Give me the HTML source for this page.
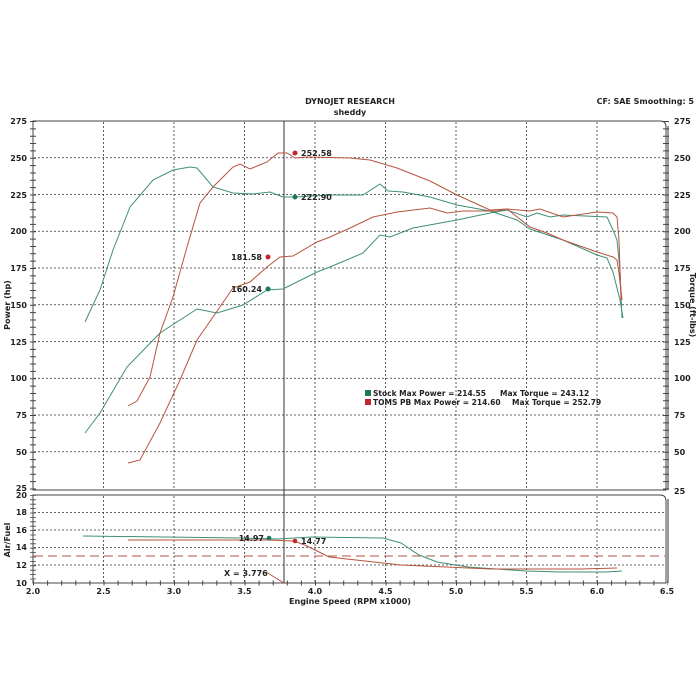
<!DOCTYPE html>
<html><head><meta charset="utf-8"><style>
html,body{margin:0;padding:0;background:#fff;}
svg{display:block;font-family:"DejaVu Sans","Liberation Sans",sans-serif;}
</style></head><body>
<svg width="700" height="700" viewBox="0 0 700 700" xmlns="http://www.w3.org/2000/svg">
<rect width="700" height="700" fill="#fff"/>
<text x="350" y="104" font-size="8" font-weight="bold" text-anchor="middle" fill="#222">DYNOJET RESEARCH</text>
<text x="350" y="115" font-size="8" font-weight="bold" text-anchor="middle" fill="#222">sheddy</text>
<text x="694" y="104" font-size="8" font-weight="bold" text-anchor="end" fill="#222">CF: SAE  Smoothing: 5</text>

<!-- main frame -->
<path d="M33,121 H660 Q666,121 666,127 V490 H33 Z" fill="none" stroke="#444" stroke-width="1"/>
<line x1="668" y1="126" x2="668" y2="490" stroke="#999" stroke-width="2"/>
<!-- grids main -->
<g stroke="#333" stroke-width="0.8" stroke-dasharray="2,2">
<line x1="34" x2="665" y1="157.75" y2="157.75"/><line x1="34" x2="665" y1="194.5" y2="194.5"/>
<line x1="34" x2="665" y1="231.25" y2="231.25"/><line x1="34" x2="665" y1="268" y2="268"/>
<line x1="34" x2="665" y1="304.75" y2="304.75"/><line x1="34" x2="665" y1="341.5" y2="341.5"/>
<line x1="34" x2="665" y1="378.25" y2="378.25"/><line x1="34" x2="665" y1="415" y2="415"/>
<line x1="34" x2="665" y1="451.75" y2="451.75"/>
<line y1="122" y2="489" x1="103.5" x2="103.5"/><line y1="122" y2="489" x1="174" x2="174"/>
<line y1="122" y2="489" x1="244.5" x2="244.5"/><line y1="122" y2="489" x1="315" x2="315"/>
<line y1="122" y2="489" x1="385.5" x2="385.5"/><line y1="122" y2="489" x1="456" x2="456"/>
<line y1="122" y2="489" x1="526.5" x2="526.5"/><line y1="122" y2="489" x1="597" x2="597"/>
</g>
<!-- ticks main -->
<line x1="33" x2="33" y1="121" y2="490" stroke="#444" stroke-width="6" stroke-dasharray="1,6.35"/>
<line x1="666" x2="666" y1="121" y2="490" stroke="#444" stroke-width="6" stroke-dasharray="1,6.35"/>
<g font-size="8" font-weight="bold" fill="#222" text-anchor="end">
<text x="27" y="124">275</text><text x="27" y="161">250</text><text x="27" y="198">225</text>
<text x="27" y="234">200</text><text x="27" y="271">175</text><text x="27" y="308">150</text>
<text x="27" y="345">125</text><text x="27" y="381">100</text><text x="27" y="418">75</text>
<text x="27" y="455">50</text><text x="27" y="491">25</text>
</g>
<g font-size="8" font-weight="bold" fill="#222">
<text x="674" y="124">275</text><text x="674" y="161">250</text><text x="674" y="198">225</text>
<text x="674" y="234">200</text><text x="674" y="271">175</text><text x="674" y="308">150</text>
<text x="674" y="345">125</text><text x="674" y="381">100</text><text x="674" y="418">75</text>
<text x="674" y="455">50</text><text x="674" y="494">25</text>
</g>
<text transform="translate(10,305) rotate(-90)" font-size="8" font-weight="bold" text-anchor="middle" fill="#222">Power (hp)</text>
<text transform="translate(690,305) rotate(90)" font-size="8" font-weight="bold" text-anchor="middle" fill="#222">Torque (ft-lbs)</text>

<!-- cursor -->
<line x1="284" x2="284" y1="121" y2="583" stroke="#333" stroke-width="1"/>

<!-- curves -->
<g fill="none" stroke-width="1">
<polyline stroke="#3f8f78" points="85,322 100,290 113,250 130,207 153,180 173,170 190,167 197,168 213,187 233,193 253,194 270,192 283,197 295,197 330,195 363,195 380,184 388,191 403,192 430,197 457,205 490,211 517,220 530,229 563,240 597,255 607,258 613,272 620,300 623,318"/>
<polyline stroke="#3f8f78" points="85,433 100,413 127,367 160,333 197,309 217,313 243,305 267,290 283,289 317,272 330,267 363,253 380,235 390,237 413,228 457,220 490,213 507,210 527,217 537,213 550,217 563,215 607,217 613,230 617,240 620,270 622,318"/>
<polyline stroke="#b7543f" points="128,406 137,401 150,377 160,333 173,297 187,247 200,203 213,187 233,167 240,164 250,169 267,162 278,153 287,153 295,158 307,157 350,158 370,160 397,168 430,181 457,195 490,210 507,209 530,227 547,233 563,240 597,252 613,257 617,260 619,273 622,300"/>
<polyline stroke="#b7543f" points="128,463 140,460 160,423 180,380 197,340 213,317 233,288 250,282 267,267 280,257 293,256 317,242 330,237 350,228 373,217 397,212 430,208 447,213 463,211 497,211 507,209 530,211 540,209 563,217 597,212 613,213 617,217 619,240 621,300"/>
</g>
<!-- markers -->
<circle cx="295" cy="153" r="2.5" fill="#c0272d"/>
<circle cx="295" cy="197" r="2.5" fill="#1e7a55"/>
<circle cx="268" cy="257" r="2.5" fill="#c0272d"/>
<circle cx="268" cy="289" r="2.5" fill="#1e7a55"/>
<g font-size="8" font-weight="bold" fill="#222">
<text x="301" y="156">252.58</text>
<text x="301" y="200">222.90</text>
<text x="262" y="260" text-anchor="end">181.58</text>
<text x="262" y="292" text-anchor="end">160.24</text>
</g>
<!-- legend -->
<rect x="365" y="390" width="6" height="6" fill="#1e7a55"/>
<rect x="365" y="399" width="6" height="6" fill="#c0272d"/>
<g font-size="7.5" font-weight="bold" fill="#222">
<text x="373" y="396">Stock Max Power = 214.55</text><text x="500" y="396">Max Torque = 243.12</text>
<text x="373" y="405">TOMS PB Max Power = 214.60</text><text x="512" y="405">Max Torque = 252.79</text>
</g>

<!-- AFR panel -->
<path d="M33,495 H660 Q666,495 666,501 V583 H33 Z" fill="none" stroke="#444" stroke-width="1"/>
<line x1="668" y1="499" x2="668" y2="583" stroke="#999" stroke-width="2"/>
<g stroke="#333" stroke-width="0.8" stroke-dasharray="2,2">
<line x1="34" x2="665" y1="512.5" y2="512.5"/><line x1="34" x2="665" y1="530" y2="530"/>
<line x1="34" x2="665" y1="547.5" y2="547.5"/><line x1="34" x2="665" y1="565" y2="565"/>
<line y1="496" y2="582" x1="103.5" x2="103.5"/><line y1="496" y2="582" x1="174" x2="174"/>
<line y1="496" y2="582" x1="244.5" x2="244.5"/><line y1="496" y2="582" x1="315" x2="315"/>
<line y1="496" y2="582" x1="385.5" x2="385.5"/><line y1="496" y2="582" x1="456" x2="456"/>
<line y1="496" y2="582" x1="526.5" x2="526.5"/><line y1="496" y2="582" x1="597" x2="597"/>
</g>
<line x1="34" x2="665" y1="556" y2="556" stroke="#b7543f" stroke-width="1" stroke-dasharray="9,5"/>
<line x1="33" x2="33" y1="495" y2="583" stroke="#444" stroke-width="6" stroke-dasharray="0.8,3.6"/>
<line x1="33" x2="668" y1="583" y2="583" stroke="#444" stroke-width="5" stroke-dasharray="1,13.1"/>
<g font-size="8" font-weight="bold" fill="#222" text-anchor="end">
<text x="27" y="498">20</text><text x="27" y="515">18</text><text x="27" y="533">16</text>
<text x="27" y="550">14</text><text x="27" y="568">12</text><text x="27" y="586">10</text>
</g>
<text transform="translate(10,540) rotate(-90)" font-size="8" font-weight="bold" text-anchor="middle" fill="#222">Air/Fuel</text>
<g fill="none" stroke-width="1">
<polyline stroke="#3f8f78" points="83,536 241,538 277,539 312,537 383,538 401,543 419,555 437,562 468,567 526,571 561,572 606,572 622,571"/>
<polyline stroke="#b7543f" points="128,540 267,540 294,541 307,546 329,557 356,560 401,565 446,567 491,569 580,569 617,568"/>
<polyline stroke="#b7543f" points="266,572 284,583"/>
</g>
<circle cx="269" cy="538" r="2.3" fill="#1e7a55"/>
<circle cx="295" cy="541" r="2.3" fill="#c0272d"/>
<g font-size="8" font-weight="bold" fill="#222">
<text x="264" y="541" text-anchor="end">14.97</text>
<text x="301" y="544">14.77</text>
<text x="224" y="576">X = 3.776</text>
</g>
<g font-size="8" font-weight="bold" fill="#222" text-anchor="middle">
<text x="33" y="594">2.0</text><text x="103.5" y="594">2.5</text><text x="174" y="594">3.0</text>
<text x="244.5" y="594">3.5</text><text x="315" y="594">4.0</text><text x="385.5" y="594">4.5</text>
<text x="456" y="594">5.0</text><text x="526.5" y="594">5.5</text><text x="597" y="594">6.0</text>
<text x="667" y="594">6.5</text>
<text x="350" y="604">Engine Speed (RPM x1000)</text>
</g>
</svg>
</body></html>
